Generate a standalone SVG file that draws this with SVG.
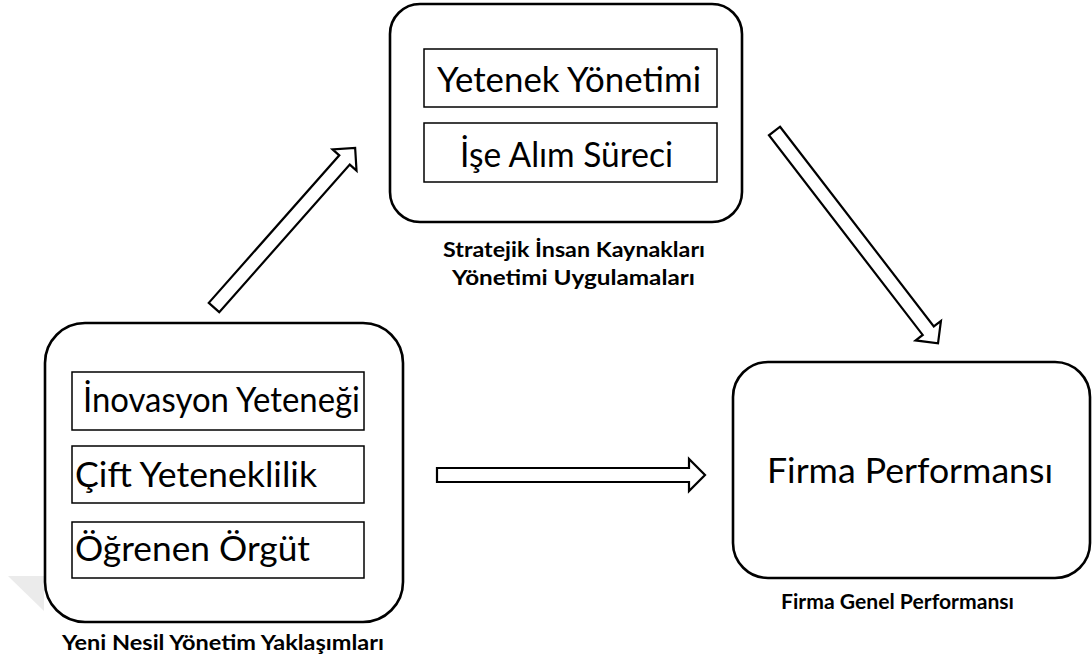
<svg xmlns="http://www.w3.org/2000/svg" width="1092" height="668" viewBox="0 0 1092 668">
  <style>
    .outer { fill: #fff; stroke: #000; stroke-width: 2.6; }
    .inner { fill: #fff; stroke: #000; stroke-width: 1.5; }
    .item { font-family: Lato, "Open Sans", sans-serif; font-size: 35px; fill: #000; }
    .label { font-family: Lato, "Open Sans", sans-serif; font-size: 20px; font-weight: bold; fill: #000; }
    .arrow { fill: #fff; stroke: #000; stroke-width: 2.2; stroke-linejoin: miter; }
  </style>
  <defs>
    <!-- block arrow shapes: shaft along +x from the origin, tip at the end -->
    <polygon id="arrow213" points="0,-7 197,-7 197,-16 213,0 197,16 197,7 0,7"/>
    <polygon id="arrow268" points="0,-7 252,-7 252,-16 268,0 252,16 252,7 0,7"/>
  </defs>

  <rect width="1092" height="668" fill="#fff"/>
  <!-- faint grey wedge at lower left -->
  <polygon points="8,576 44,576 44,611" fill="#ebebeb"/>

  <g id="connectors">
    <use href="#arrow213" class="arrow" transform="translate(214,307.5) rotate(-48.5)"/>
    <use href="#arrow268" class="arrow" transform="translate(774.5,131) rotate(52.4)"/>
    <use href="#arrow268" class="arrow" transform="translate(437,475)"/>
  </g>

  <g id="stratejik-ik">
    <rect class="outer" x="390" y="4" width="352" height="218" rx="30"/>
    <rect class="inner" x="424" y="49" width="293" height="58"/>
    <text class="item" x="437" y="92" textLength="264" lengthAdjust="spacingAndGlyphs">Yetenek Yönetimi</text>
    <rect class="inner" x="424" y="123" width="293" height="59"/>
    <text class="item" x="460" y="167" textLength="213" lengthAdjust="spacingAndGlyphs">İşe Alım Süreci</text>
    <text class="label" x="443" y="257" textLength="262" lengthAdjust="spacingAndGlyphs">Stratejik İnsan Kaynakları</text>
    <text class="label" x="452" y="285" textLength="243" lengthAdjust="spacingAndGlyphs">Yönetimi Uygulamaları</text>
  </g>

  <g id="yeni-nesil">
    <rect class="outer" x="45" y="323" width="358" height="299" rx="40"/>
    <rect class="inner" x="72" y="372" width="292" height="58"/>
    <text class="item" x="83" y="412" textLength="277" lengthAdjust="spacingAndGlyphs">İnovasyon Yeteneği</text>
    <rect class="inner" x="72" y="446" width="292" height="57"/>
    <text class="item" x="75" y="487" textLength="242" lengthAdjust="spacingAndGlyphs">Çift Yeteneklilik</text>
    <rect class="inner" x="72" y="522" width="292" height="56"/>
    <text class="item" x="75" y="561" textLength="235" lengthAdjust="spacingAndGlyphs">Öğrenen Örgüt</text>
    <text class="label" x="62" y="650" textLength="322" lengthAdjust="spacingAndGlyphs">Yeni Nesil Yönetim Yaklaşımları</text>
  </g>

  <g id="firma-performansi">
    <rect class="outer" x="733" y="362" width="357" height="216" rx="35"/>
    <text class="item" x="767" y="483" textLength="286" lengthAdjust="spacingAndGlyphs">Firma Performansı</text>
    <text class="label" x="781" y="609" textLength="233" lengthAdjust="spacingAndGlyphs">Firma Genel Performansı</text>
  </g>
</svg>
